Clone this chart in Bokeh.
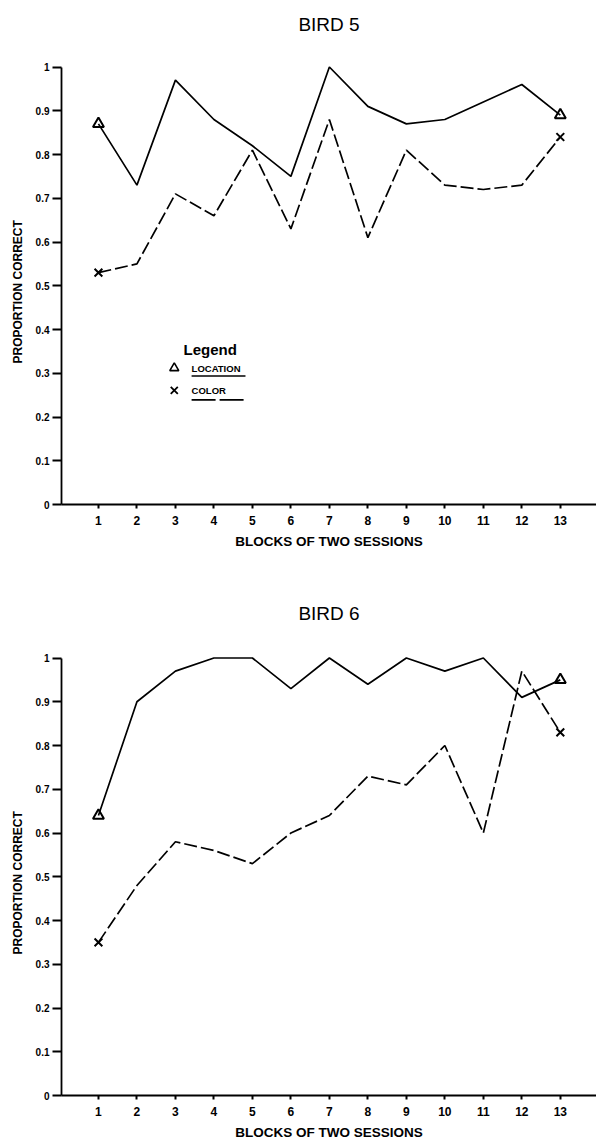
from bokeh.plotting import figure
from bokeh.models import FixedTicker, Range1d, Label, Title
from bokeh.layouts import column
from bokeh.embed import file_html
from bokeh.resources import INLINE
from bokeh.core.properties import value

# ---------------- data ----------------
blocks = [1, 2, 3, 4, 5, 6, 7, 8, 9, 10, 11, 12, 13]
bird5_location = [0.87, 0.73, 0.97, 0.88, 0.82, 0.75, 1.00, 0.91, 0.87, 0.88, 0.92, 0.96, 0.89]
bird5_color = [0.53, 0.55, 0.71, 0.66, 0.81, 0.63, 0.88, 0.61, 0.81, 0.73, 0.72, 0.73, 0.84]
bird6_location = [0.64, 0.90, 0.97, 1.00, 1.00, 0.93, 1.00, 0.94, 1.00, 0.97, 1.00, 0.91, 0.95]
bird6_color = [0.35, 0.48, 0.58, 0.56, 0.53, 0.60, 0.64, 0.73, 0.71, 0.80, 0.60, 0.97, 0.83]
y_ticks = [0, 0.1, 0.2, 0.3, 0.4, 0.5, 0.6, 0.7, 0.8, 0.9, 1]
y_tick_labels = ["0", "0.1", "0.2", "0.3", "0.4", "0.5", "0.6", "0.7", "0.8", "0.9", "1"]
titles = ["BIRD 5", "BIRD 6"]
x_label = "BLOCKS OF TWO SESSIONS"
y_label = "PROPORTION CORRECT"
legend_title = "Legend"
legend_names = ["LOCATION", "COLOR"]

FONT = "Liberation Sans"


def make_fig(title, loc, col, height, top, bottom, frame_h, y_end, title_y, with_legend=False):
    p = figure(width=596, height=height, output_backend="svg", toolbar_location=None,
               x_range=Range1d(0.04, 13.94), y_range=Range1d(0, y_end),
               min_border_left=61, min_border_right=0, min_border_top=top,
               min_border_bottom=bottom, frame_height=frame_h, frame_width=535)
    p.outline_line_color = None
    p.xgrid.visible = False
    p.ygrid.visible = False
    p.background_fill_color = "white"
    p.border_fill_color = "white"

    p.add_layout(Label(x=6.99, y=title_y, text=title, text_align="center",
                       text_baseline="middle", text_font=FONT, text_font_size="19px",
                       text_color="black"))

    # axes
    p.xaxis.ticker = FixedTicker(ticks=blocks)
    p.xaxis.minor_tick_line_color = None
    p.xaxis.major_tick_in = 0
    p.xaxis.major_tick_out = 4
    p.xaxis.major_tick_line_width = 2
    p.xaxis.axis_line_width = 2.2
    p.xaxis.major_label_standoff = 7
    p.xaxis.major_label_text_font = FONT
    p.xaxis.major_label_text_font_style = "bold"
    p.xaxis.major_label_text_font_size = "12px"
    p.xaxis.major_label_text_color = "black"
    p.xaxis.axis_label = x_label
    p.xaxis.axis_label_text_font = FONT
    p.xaxis.axis_label_text_font_style = "bold"
    p.xaxis.axis_label_text_font_size = "13.5px"
    p.xaxis.axis_label_standoff = 6
    p.xaxis.axis_label_text_color = "black"

    p.yaxis.bounds = (0, 1)
    p.yaxis.ticker = FixedTicker(ticks=y_ticks)
    p.yaxis.major_label_overrides = {t: s for t, s in zip(y_ticks, y_tick_labels)}
    p.yaxis.minor_tick_line_color = None
    p.yaxis.major_tick_in = 0
    p.yaxis.major_tick_out = 9
    p.yaxis.major_tick_line_width = 1.8
    p.yaxis.axis_line_width = 1.8
    p.yaxis.major_label_standoff = 3
    p.yaxis.major_label_text_font = FONT
    p.yaxis.major_label_text_font_style = "bold"
    p.yaxis.major_label_text_font_size = "10px"
    p.yaxis.major_label_text_color = "black"

    # y label as a side title so it can be centred on the 0..1 span
    p.add_layout(Title(text=y_label, align="left", offset=141, text_font=FONT,
                       text_font_size="12px", text_font_style="bold", text_color="black",
                       standoff=16), "left")

    # series
    p.line(blocks, loc, line_color="black", line_width=1.7)
    p.line(blocks, col, line_color="black", line_width=1.7, line_dash="13 4")
    ends = [0, len(blocks) - 1]
    p.scatter([blocks[i] for i in ends], [loc[i] for i in ends], marker="triangle",
              size=11, fill_color=None, line_color="black", line_width=2)
    p.scatter([blocks[i] for i in ends], [col[i] for i in ends], marker="x",
              size=11, line_color="black", line_width=2)

    if with_legend:
        p.text(x=[3.21], y=[0.355], text=[legend_title], text_font=value(FONT),
               text_font_size="15px", text_font_style="bold", text_baseline="middle",
               text_align="left", text_color="black")
        p.scatter([2.97], [0.312], marker="triangle", size=9, fill_color=None,
                  line_color="black", line_width=1.6)
        p.scatter([2.97], [0.261], marker="x", size=10, line_color="black", line_width=1.8)
        p.text(x=[3.42, 3.42], y=[0.312, 0.261], text=legend_names, text_font=value(FONT),
               text_font_size="9.5px", text_font_style="bold", text_baseline="middle",
               text_align="left", text_color="black")
        p.line([3.42, 4.82], [0.294, 0.294], line_color="black", line_width=1.5)
        p.line([3.42, 4.82], [0.239, 0.239], line_color="black", line_width=1.8,
               line_dash="24 4")
    return p


p1 = make_fig(titles[0], bird5_location, bird5_color, 558, 4, 54, 500, 1.14286, 1.098,
              with_legend=True)
p2 = make_fig(titles[1], bird6_location, bird6_color, 581, 4, 44, 533, 1.21829, 1.102)

layout = column(p1, p2, spacing=0)
open("out.html", "w").write(file_html(layout, INLINE))
